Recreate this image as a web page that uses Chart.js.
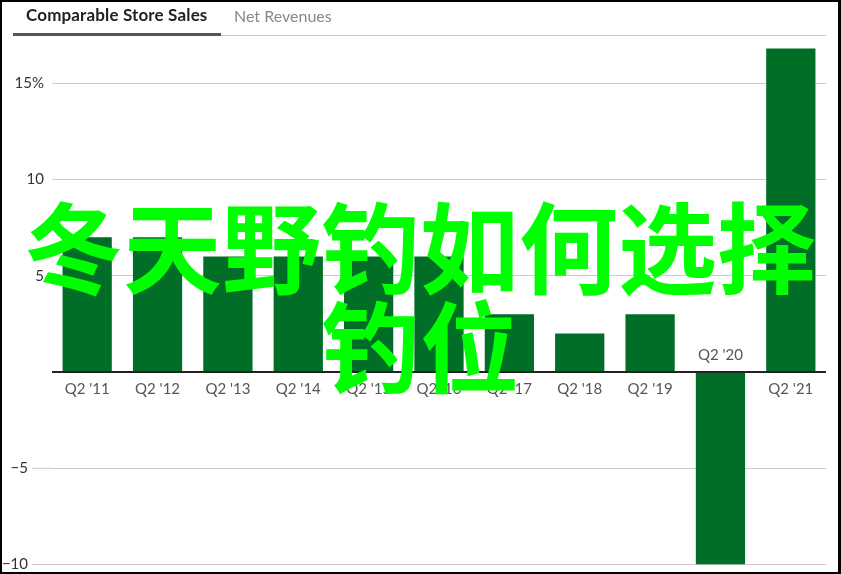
<!DOCTYPE html>
<html>
<head>
<meta charset="utf-8">
<script src="https://cdn.jsdelivr.net/npm/chart.js@4.4.1/dist/chart.umd.min.js"></script>
<style>
  html, body { margin: 0; padding: 0; background: #fff; }
  #wrap { position: relative; width: 841px; height: 574px; overflow: hidden; }
  #salesChart { position: absolute; left: 0; top: 0; }
  #frame { position: absolute; left: 0; top: 0; width: 841px; height: 574px; box-sizing: border-box;
    border: 2px solid #000; border-right-width: 3px; pointer-events: none; }
  .tab { position: absolute; top: 6px; line-height: 20px; font-family: Lato, "Noto Sans", sans-serif; font-size: 16px; white-space: nowrap; }
  #tab1 { left: 26px; font-weight: bold; color: #222; font-size: 17px; letter-spacing: 0.15px; top: 5px; }
  #tab2 { left: 234px; color: #888; }
  #tabLine { position: absolute; left: 13px; top: 35px; width: 813px; height: 1px; background: #ccc; }
  #tabActive { position: absolute; left: 13px; top: 33px; width: 208px; height: 3px; background: #555; }
  #overlay { position: absolute; left: 0; top: 194px; width: 840px; text-align: center;
    font-family: "Noto Sans CJK SC", sans-serif; font-weight: bold; font-size: 99px; line-height: 99px; color: #00ff00; }
</style>
</head>
<body>
<div id="wrap">
  <canvas id="salesChart" width="841" height="574"></canvas>
  <div id="tabLine"></div>
  <div id="tabActive"></div>
  <div class="tab" id="tab1">Comparable Store Sales</div>
  <div class="tab" id="tab2">Net Revenues</div>
  <div id="overlay">冬天野钓如何选择钓位</div>
  <div id="frame"></div>
</div>
<script>
// quarters shown on the x axis
const quarters = ["Q2 '11", "Q2 '12", "Q2 '13", "Q2 '14", "Q2 '15", "Q2 '16", "Q2 '17", "Q2 '18", "Q2 '19", "Q2 '20", "Q2 '21"];
// comparable store sales growth, %
const compSales = [7, 7, 6, 6, 6, 6, 3, 2, 3, -10, 16.8];
// y axis labels
const yTicks = [15, 10, 5, -5, -10];
const yTickLabels = ['15%', '10', '5', '\u22125', '\u221210'];

const barColor = '#006e26';

// draws the axis labels at the zero line and the zero line itself on top of the bars
const axisLabels = {
  id: 'axisLabels',
  afterDatasetsDraw(chart) {
    const ctx = chart.ctx;
    const xs = chart.scales.x;
    const ys = chart.scales.y;
    const area = chart.chartArea;
    const zeroY = ys.getPixelForValue(0);

    ctx.save();
    // negative gridlines start further left
    ctx.strokeStyle = '#ccc';
    ctx.lineWidth = 1;
    yTicks.forEach(v => {
      if (v < 0) {
        const y = ys.getPixelForValue(v);
        ctx.beginPath();
        ctx.moveTo(32, y);
        ctx.lineTo(area.left, y);
        ctx.stroke();
      }
    });

    ctx.strokeStyle = '#222';
    ctx.lineWidth = 2;
    ctx.beginPath();
    ctx.moveTo(area.left, zeroY);
    ctx.lineTo(area.right, zeroY);
    ctx.stroke();

    ctx.font = '15px Lato, "Noto Sans", sans-serif';
    ctx.fillStyle = '#333';
    ctx.textAlign = 'right';
    ctx.textBaseline = 'middle';
    yTicks.forEach((v, i) => {
      const x = v < 0 ? 28 : 44;
      ctx.fillText(yTickLabels[i], x, ys.getPixelForValue(v));
    });

    ctx.font = '15px Lato, "Noto Sans", sans-serif';
    ctx.fillStyle = '#555';
    ctx.textAlign = 'center';
    quarters.forEach((q, i) => {
      const y = compSales[i] < 0 ? zeroY - 17 : zeroY + 17;
      ctx.fillText(q, xs.getPixelForValue(i), y);
    });
    ctx.restore();
  }
};

const config = {
  type: 'bar',
  data: {
    labels: quarters,
    datasets: [{
      label: 'Comparable Store Sales',
      data: compSales,
      backgroundColor: barColor,
      borderWidth: 0,
      barPercentage: 0.7,
      categoryPercentage: 1.0
    }]
  },
  options: {
    responsive: false,
    animation: false,
    devicePixelRatio: 1,
    layout: { padding: { left: 52, right: 15, top: 44.75, bottom: 9.5 } },
    plugins: {
      legend: { display: false },
      tooltip: { enabled: false }
    },
    scales: {
      x: { display: false },
      y: {
        min: -10,
        max: 17,
        afterFit: s => { s.width = 0; },
        border: { display: false },
        ticks: { display: false, stepSize: 5, includeBounds: false },
        grid: {
          drawTicks: false,
          color: c => (c.tick && c.tick.value === 0) ? 'rgba(0,0,0,0)' : '#ccc',
          lineWidth: 1
        }
      }
    }
  },
  plugins: [axisLabels]
};

const salesChart = new Chart(document.getElementById('salesChart'), config);
</script>
</body>
</html>
